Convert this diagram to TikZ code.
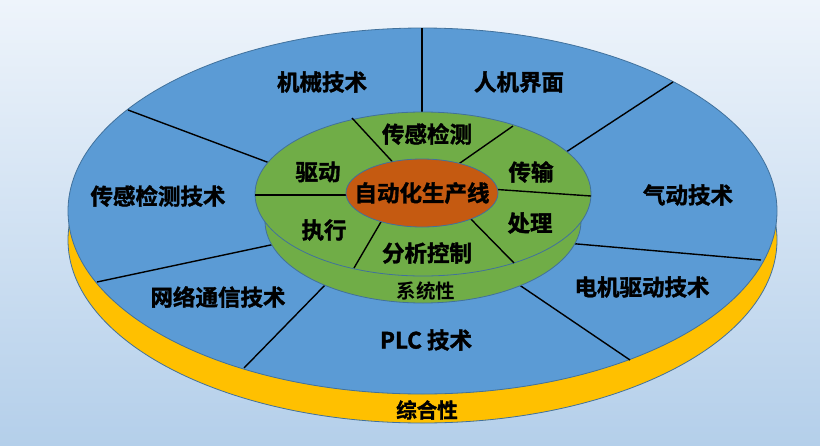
\documentclass[tikz,border=0pt]{standalone}
\usepackage{fontspec}
\setmainfont{Noto Sans CJK SC}[BoldFont={Noto Sans CJK SC Bold}]
\newfontfamily\heavyfont{Noto Sans CJK SC Bold}[FakeBold=1.6]
\newfontfamily\midfont{Noto Sans CJK SC Bold}
\definecolor{bgtop}{HTML}{EEF4FB}
\definecolor{bgbot}{HTML}{B4CFEA}
\definecolor{ringblue}{HTML}{5B9BD5}
\definecolor{ringgreen}{HTML}{70AD47}
\definecolor{coreorange}{HTML}{C55A11}
\definecolor{baseyellow}{HTML}{FFC000}
\definecolor{rim}{HTML}{41719C}
\tikzset{
  face/.style={draw=rim, line width=0.8pt},
  divider/.style={draw=black, line width=1.4pt},
  lbl/.style={inner sep=0pt, font=\heavyfont\fontsize{22.5}{24}\selectfont, text=black},
  baselbl/.style={inner sep=0pt, font=\heavyfont\fontsize{20.5}{22}\selectfont, text=black},
  thinlbl/.style={inner sep=0pt, font=\midfont\fontsize{19.5}{22}\selectfont, text=black},
}
\begin{document}
\begin{tikzpicture}[x=1pt,y=-1pt]
\useasboundingbox (0,0) rectangle (820,445);
\shade[top color=bgtop, bottom color=bgbot] (0,0) rectangle (820,445);
% base (yellow) and outer ring (blue)
\fill[baseyellow, face] (422.5,240) ellipse [x radius=354.5, y radius=183];
\fill[ringblue, face] (422.5,211) ellipse [x radius=354.5, y radius=183];
% outer dividers
\coordinate (o1a) at (422,28);  \coordinate (o1b) at (422,120);
\coordinate (o2a) at (673,82);  \coordinate (o2b) at (560,156);
\coordinate (o3a) at (761,260); \coordinate (o3b) at (566,243);
\coordinate (o4a) at (630,360); \coordinate (o4b) at (515,282);
\coordinate (o5a) at (244,368); \coordinate (o5b) at (328,282);
\coordinate (o6a) at (97,282);  \coordinate (o6b) at (280,243);
\coordinate (o7a) at (128,110); \coordinate (o7b) at (275,165);
\foreach \i in {1,...,7} {\draw[divider] (o\i a) -- (o\i b);}
% inner green disc (side and top)
\fill[ringgreen, face] (423,221) ellipse [x radius=158, y radius=82];
\fill[ringgreen, face] (423,194) ellipse [x radius=168, y radius=82];
% inner dividers
\coordinate (i1a) at (352,118); \coordinate (i1b) at (400,170);
\coordinate (i2a) at (513,126); \coordinate (i2b) at (450,170);
\coordinate (i3a) at (591,196); \coordinate (i3b) at (490,189);
\coordinate (i4a) at (514,263); \coordinate (i4b) at (462,210);
\coordinate (i5a) at (354,268); \coordinate (i5b) at (385,215);
\coordinate (i6a) at (255,195); \coordinate (i6b) at (355,195);
\foreach \i in {1,...,6} {\draw[divider] (i\i a) -- (i\i b);}
% core
\fill[coreorange, face] (422,193) ellipse [x radius=76, y radius=34];
% labels
\node[lbl] (core) at (422,193) {自动化生产线};
\node[lbl] (jx) at (322,82) {机械技术};
\node[lbl] (rj) at (519,82) {人机界面};
\node[lbl] (cgjs) at (158,196) {传感检测技术};
\node[lbl] (qd) at (688,195) {气动技术};
\node[lbl] (wl) at (218,297) {网络通信技术};
\node[lbl] (plc) at (426,340) {PLC 技术};
\node[lbl] (dj) at (642,287) {电机驱动技术};
\node[baselbl] (zh) at (427,410) {综合性};
\node[thinlbl] (xt) at (426,291) {系统性};
\node[lbl] (cg) at (427,134) {传感检测};
\node[lbl] (qdi) at (318,172) {驱动};
\node[lbl] (cs) at (531,172) {传输};
\node[lbl] (cl) at (530,223) {处理};
\node[lbl] (zx) at (324,230) {执行};
\node[lbl] (fx) at (427,253) {分析控制};
\end{tikzpicture}
\end{document}
